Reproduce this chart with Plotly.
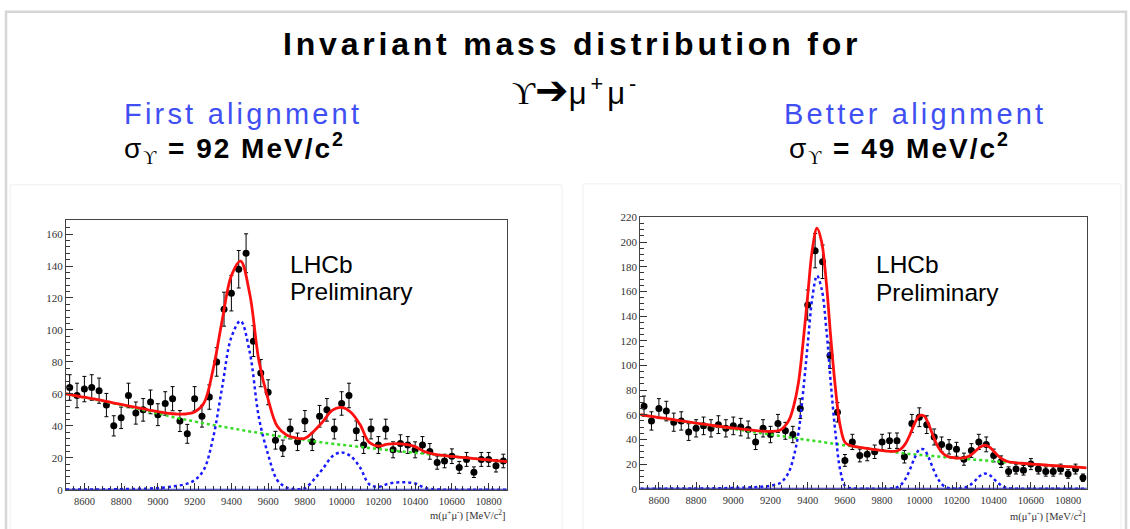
import numpy as np
import plotly.graph_objects as go

W, H = 1130, 529

# ---------------- data: left panel (first alignment) ----------------
bin_centers = list(range(8520, 10900, 40))  # 40 MeV bins, 60 bins
left_counts = [64, 59, 63, 64, 62, 53, 40, 45, 59, 48, 50, 55, 47, 54, 57, 43, 35, 57, 46, 58,
               80, 113, 123, 138, 148, 93, 73, 61, 31, 26, 38, 30, 43, 30, 46, 50, 38, 54, 59, 37,
               28, 38, 28, 38, 25, 29, 28, 25, 28, 24, 17, 18, 21, 14, 19, 11, 19, 19, 15, 18]

left_grid = list(range(8500, 10901, 50))
left_bkg = [60.0, 58.8, 57.7, 56.6, 55.5, 54.2, 53.0, 51.7, 50.5, 49.1, 47.8,
            46.4, 45.0, 43.9, 42.7, 41.6, 40.5, 39.5, 38.5, 37.5, 36.5,
            35.6, 34.6, 33.7, 32.8, 32.0, 31.2, 30.3, 29.5, 28.8, 28.1,
            27.5, 26.8, 26.2, 25.5, 24.9, 24.3, 23.7, 23.1, 22.6, 22.0,
            21.4, 20.9, 20.3, 19.8, 19.2, 18.7, 18.1, 17.6]
left_sig = [0.1, 0.1, 0.15, 0.2, 0.25, 0.3, 0.4, 0.5, 0.6, 0.8, 1.1,
            1.6, 2.4, 3.5, 6.0, 12.5, 32.2, 64.3, 95.5, 105.6, 86.0,
            45.0, 22.0, 6.0, 1.5, 0.4, 1.0, 6.5, 13.5, 21.0, 23.4,
            21.0, 14.0, 3.5, 1.8, 3.6, 4.6, 4.7, 3.9, 1.3, 0.3,
            0.1, 0, 0, 0, 0, 0, 0, 0]
left_fit = [60.1, 58.9, 57.9, 56.8, 55.8, 54.5, 53.4, 52.2, 51.1, 49.9, 48.9,
            48.0, 47.4, 47.4, 48.7, 54.1, 75.0, 106.0, 134.0, 143.1, 122.5,
            80.6, 56.6, 39.7, 34.3, 32.4, 32.2, 36.8, 43.0, 49.8, 51.5,
            48.5, 40.8, 29.7, 27.3, 28.5, 28.9, 28.4, 27.0, 23.9, 22.3,
            21.5, 20.9, 20.3, 19.8, 19.2, 18.7, 18.1, 17.6]

# ---------------- data: right panel (better alignment) ----------------
right_counts = [67, 55, 65, 63, 54, 55, 46, 49, 51, 49, 52, 49, 51, 50, 48, 38, 49, 44, 53, 47,
                44, 65, 149, 193, 184, 108, 62, 23, 38, 27, 28, 30, 38, 39, 39, 26, 53, 58, 52, 42,
                36, 34, 32, 24, 31, 38, 36, 27, 22, 14, 16, 15, 20, 16, 14, 14, 16, 12, 16, 9]

right_grid = [8500, 8550, 8600, 8650, 8700, 8750, 8800, 8850, 8900, 8950, 9000, 9050, 9100, 9150, 9200, 9250,
              9275, 9300, 9325, 9350, 9375, 9400, 9425, 9450, 9475, 9500,
              9525, 9550, 9575, 9600, 9625, 9650, 9675, 9700, 9725, 9750,
              9775, 9800, 9825, 9850, 9875, 9900, 9925, 9950, 9975, 10000,
              10025, 10050, 10075, 10100, 10125, 10150, 10175, 10200, 10225, 10250,
              10275, 10300, 10325, 10350, 10375, 10400, 10425, 10450, 10475, 10500,
              10550, 10600, 10650, 10700, 10750, 10800, 10850, 10900]
right_bkg = [60.0, 58.8, 57.6, 56.5, 55.3, 54.2, 53.0, 51.9, 50.7, 49.6, 48.5, 47.4, 46.3, 45.1, 44.0, 42.9,
             42.4, 41.8, 41.3, 40.7, 40.2, 39.6, 39.1, 38.5, 38.0, 37.4,
             36.9, 36.3, 35.8, 35.2, 34.7, 34.1, 33.6, 33.0, 32.5, 32.0,
             31.5, 31.0, 30.5, 30.0, 29.5, 29.0, 28.6, 28.2, 27.9, 27.5,
             27.2, 26.8, 26.5, 26.1, 25.8, 25.4, 25.1, 24.8, 24.5, 24.2,
             23.9, 23.6, 23.3, 23.0, 22.7, 22.4, 22.1, 21.8, 21.5, 21.2,
             20.7, 20.1, 19.6, 19.0, 18.5, 18.0, 17.5, 17.0]
right_sig = [0.1, 0.1, 0.1, 0.15, 0.2, 0.2, 0.3, 0.3, 0.4, 0.5, 0.7, 0.9, 1.2, 1.7, 2.5, 4.5,
             8.0, 14.0, 26.0, 45.0, 78.0, 117.0, 155.0, 172.8, 162.0, 130.0,
             84.0, 44.0, 15.0, 2.5, 0.6, 0.2, 0.1, 0.05, 0, 0,
             0, 0, 0.05, 0.25, 1.0, 3.1, 7.8, 15.7, 25.1, 31.8,
             31.9, 25.5, 16.1, 8.1, 3.2, 1.0, 0.3, 0.1, 0.4, 1.25,
             3.3, 6.6, 10.3, 12.3, 11.4, 8.1, 4.5, 1.9, 0.6, 0.15,
             0, 0, 0, 0, 0, 0, 0, 0]
right_fit = [60.1, 58.9, 57.7, 56.7, 55.5, 54.4, 53.3, 52.2, 51.1, 50.1, 49.2, 48.3, 47.5, 46.8, 46.5, 47.4,
             50.4, 55.8, 67.3, 85.7, 118.2, 156.6, 194.1, 211.3, 200.0, 167.4,
             120.9, 80.3, 50.8, 37.7, 35.3, 34.3, 33.7, 33.1, 32.5, 32.0,
             31.5, 31.0, 30.6, 30.3, 30.5, 32.1, 36.4, 43.9, 53.0, 59.3,
             59.1, 52.3, 42.6, 34.2, 29.0, 26.4, 25.4, 24.9, 24.9, 25.5,
             27.2, 30.2, 33.6, 35.3, 34.1, 30.5, 26.6, 23.7, 22.1, 21.4,
             20.7, 20.1, 19.6, 19.0, 18.5, 18.0, 17.5, 17.0]

x_ticks = [8600, 8800, 9000, 9200, 9400, 9600, 9800, 10000, 10200, 10400, 10600, 10800]
x_ticktext = [str(v) for v in x_ticks]

# ---------------- helpers ----------------
def px(x):
    return x / W

def py(y):
    return 1 - y / H

SERIF = "Liberation Serif, Times New Roman, serif"
SANS = "Liberation Sans, Arial, sans-serif"

fig = go.Figure()

def add_panel(xa, ya, counts, grid, bkg, sig, fit):
    errs = np.sqrt(np.array(counts, dtype=float))
    fig.add_trace(go.Scatter(x=bin_centers, y=counts, mode="markers", xaxis=xa, yaxis=ya,
                             marker=dict(color="black", size=7),
                             error_y=dict(type="data", array=errs, color="black", thickness=1, width=2),
                             showlegend=False, hoverinfo="skip"))
    fig.add_trace(go.Scatter(x=grid, y=bkg, mode="lines", xaxis=xa, yaxis=ya,
                             line=dict(color="#33dd22", width=2.5, dash="dot", shape="spline"),
                             showlegend=False, hoverinfo="skip"))
    fig.add_trace(go.Scatter(x=grid, y=sig, mode="lines", xaxis=xa, yaxis=ya,
                             line=dict(color="#1a1aff", width=2.5, dash="dot", shape="spline"),
                             showlegend=False, hoverinfo="skip"))
    fig.add_trace(go.Scatter(x=grid, y=fit, mode="lines", xaxis=xa, yaxis=ya,
                             line=dict(color="#ff1010", width=2.8, shape="spline"),
                             showlegend=False, hoverinfo="skip"))

add_panel("x", "y", left_counts, left_grid, left_bkg, left_sig, left_fit)
add_panel("x2", "y2", right_counts, right_grid, right_bkg, right_sig, right_fit)

xcommon = dict(range=[8500, 10900], tickvals=x_ticks, ticktext=x_ticktext, ticks="inside", ticklen=7,
               tickwidth=1, tickcolor="#333", showline=True, linecolor="#444", linewidth=1, mirror=True,
               showgrid=False, zeroline=False, ticklabelstandoff=2,
               minor=dict(ticks="inside", ticklen=3.5, dtick=40, tick0=8500, tickcolor="#333", showgrid=False),
               tickfont=dict(family=SERIF, size=10.5, color="#333"))
ycommon = dict(ticks="inside", ticklen=7, tickwidth=1, tickcolor="#333", showline=True,
               linecolor="#444", linewidth=1, mirror=True, showgrid=False, zeroline=False,
               dtick=20, tickfont=dict(family=SERIF, size=11, color="#333"))

fig.update_layout(
    width=W, height=H, autosize=False,
    margin=dict(l=0, r=0, t=0, b=0),
    paper_bgcolor="white", plot_bgcolor="white",
    xaxis=dict(domain=[px(66), px(507)], anchor="y", **xcommon),
    yaxis=dict(domain=[py(495), py(219.3)], anchor="x", range=[0, 168.6],
               minor=dict(ticks="inside", ticklen=3.5, dtick=4, tickcolor="#333", showgrid=False), **ycommon),
    xaxis2=dict(domain=[px(640.3), px(1086.7)], anchor="y2", **xcommon),
    yaxis2=dict(domain=[py(494), py(216.3)], anchor="x2", range=[0, 220],
                minor=dict(ticks="inside", ticklen=3.5, dtick=5, tickcolor="#333", showgrid=False), **ycommon),
)

shapes = [
    # slide frame
    dict(type="rect", xref="paper", yref="paper", x0=px(6), x1=px(1126), y0=py(545), y1=py(6),
         line=dict(color="#d6d6d6", width=2.5), layer="below"),
    # picture frames
    dict(type="rect", xref="paper", yref="paper", x0=px(10), x1=px(562), y0=py(545), y1=py(183),
         line=dict(color="#efefef", width=1), layer="below"),
    dict(type="rect", xref="paper", yref="paper", x0=px(583), x1=px(1121), y0=py(545), y1=py(182),
         line=dict(color="#efefef", width=1), layer="below"),
    # blue baseline under the signal curves
    dict(type="line", xref="x domain", yref="y", x0=0, x1=1, y0=0, y1=0,
         line=dict(color="#2222b0", width=2)),
    dict(type="line", xref="x2 domain", yref="y2", x0=0, x1=1, y0=0, y1=0,
         line=dict(color="#2222b0", width=2)),
]
fig.update_layout(shapes=shapes)

def ann(text, x, y, size, family=SANS, color="black", xanchor="left", yanchor="middle"):
    fig.add_annotation(text=text, x=px(x), y=py(y), xref="paper", yref="paper",
                       xanchor=xanchor, yanchor=yanchor, showarrow=False,
                       font=dict(family=family, size=size, color=color), borderpad=0)

BLUE = "#3f4ff2"
title_txt = "<span style='letter-spacing:3.8px'><b>Invariant mass distribution for</b></span>"
ann(title_txt, 572, 50.5 - 0.35 * 32, 32, xanchor="center")
line2 = ("<span style='font-family:Liberation Serif, DejaVu Serif, serif;font-size:32px'>ϒ</span>"
         "<span style='font-family:DejaVu Sans;font-size:40px'><b>➔</b></span>"
         "<span style='letter-spacing:4px'>μ<sup>+</sup>μ<sup>-</sup></span>")
ann(line2, 576, 96.5 - 0.35 * 31, 31, xanchor="center")

ann("<span style='letter-spacing:3.2px'>First alignment</span>", 123, 121 - 0.35 * 29, 29, color=BLUE)
ann("<span style='letter-spacing:3.2px'>Better alignment</span>", 783, 121 - 0.35 * 29, 29, color=BLUE)

def sigma_txt(val):
    return ("<span style='letter-spacing:2px'>σ<sub><span style='font-family:Liberation Serif, DejaVu Serif, serif;font-size:18px'>ϒ</span></sub>"
            " <b>= %s MeV/c<sup>2</sup></b></span>" % val)

ann(sigma_txt("92"), 123, 155.5 - 0.35 * 28, 28)
ann(sigma_txt("49"), 788, 155.5 - 0.35 * 28, 28)

# LHCb labels
ann("LHCb", 289, 272.7 - 0.35 * 24.5, 24.5)
ann("Preliminary", 289, 300.7 - 0.35 * 24.5, 24.5)
ann("LHCb", 875, 273.3 - 0.35 * 24.5, 24.5)
ann("Preliminary", 875, 301.7 - 0.35 * 24.5, 24.5)

# axis titles
xt = "m(μ<sup>+</sup>μ<sup>-</sup>) [MeV/c<sup>2</sup>]"
ann(xt, 507, 521, 10.5, family=SERIF, color="#333", xanchor="right")
ann(xt, 1087, 521.5, 10.5, family=SERIF, color="#333", xanchor="right")

fig.write_html("out.html", config={"displayModeBar": False},
               post_script="document.body.style.margin='0';document.body.style.padding='0';")
